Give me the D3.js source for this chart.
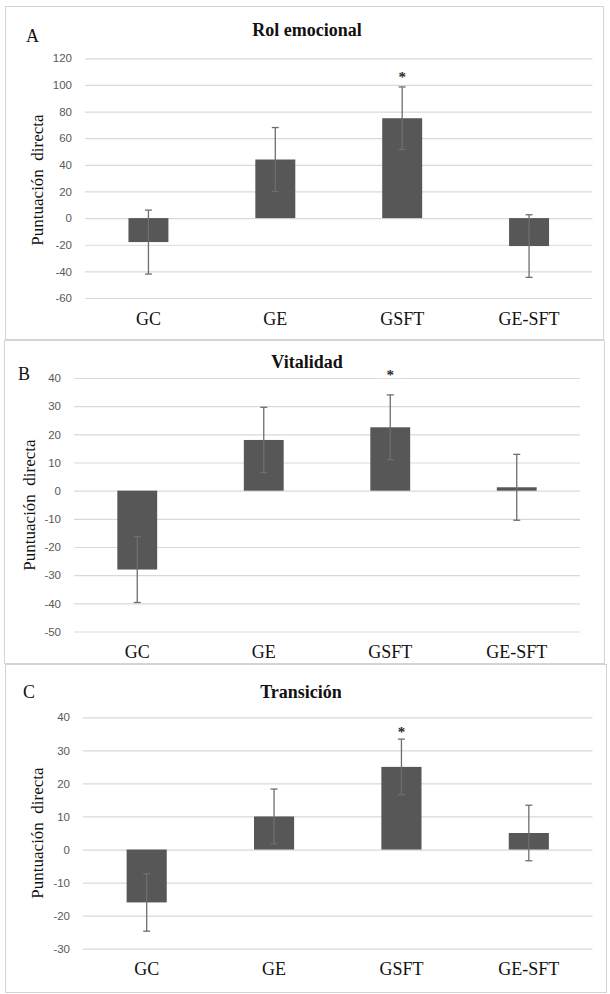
<!DOCTYPE html>
<html>
<head>
<meta charset="utf-8">
<script src="https://cdn.jsdelivr.net/npm/d3@7"></script>
<style>
  html, body { margin: 0; padding: 0; background: #fff; }
  svg { display: block; }
</style>
</head>
<body>
<svg id="chart" width="610" height="994"></svg>
<script>
// ---------- DATA ----------
const categories = ["GC", "GE", "GSFT", "GE-SFT"];

const rolMeans  = [-18, 44, 75, -21];
const rolErrors = [24, 24, 23.5, 23.5];
const rolTicks  = [-60, -40, -20, 0, 20, 40, 60, 80, 100, 120];

const vitMeans  = [-28, 18, 22.5, 1.2];
const vitErrors = [11.7, 11.6, 11.5, 11.7];
const vitTicks  = [-50, -40, -30, -20, -10, 0, 10, 20, 30, 40];

const traMeans  = [-16, 10, 25, 5];
const traErrors = [8.7, 8.3, 8.4, 8.4];
const traTicks  = [-30, -20, -10, 0, 10, 20, 30, 40];

const titles  = ["Rol emocional", "Vitalidad", "Transición"];
const letters = ["A", "B", "C"];
const yLabel  = "Puntuación  directa";
const sigMark = "*";
const sigIndex = [2, 2, 2];         // category marked significant
const sigLevel = [108, 42.1, 36.2]; // data-unit height of the asterisk

// ---------- LAYOUT ----------
const layout = [
  { box:[5,6,598,333],   x0:85, x1:592.5, yTop:58.3,  yBot:298,   titleX:307, titleY:36,  letterX:26, letterY:42,  catY:325, labX:37, labY:180, gap:null },
  { box:[4,340,600,323], x0:74, x1:580,   yTop:378,   yBot:631.5, titleX:307, titleY:368, letterX:18, letterY:380, catY:658, labX:29, labY:505, gap:[374,406] },
  { box:[5,664,601,328], x0:83, x1:592.5, yTop:717.3, yBot:948.7, titleX:301, titleY:698, letterX:23, letterY:698, catY:975, labX:37, labY:833, gap:[387,414.5] }
];

const panels = [
  { means: rolMeans, errors: rolErrors, ticks: rolTicks },
  { means: vitMeans, errors: vitErrors, ticks: vitTicks },
  { means: traMeans, errors: traErrors, ticks: traTicks }
];

const svg = d3.select("#chart");
const serif = "'Liberation Serif', 'Times New Roman', serif";
const sans = "'Liberation Sans', Arial, sans-serif";
const barColor = "#575757";
const errColor = "#6e6e6e";
const gridColor = "#d9d9d9";

panels.forEach((p, i) => {
  const L = layout[i];
  const g = svg.append("g");
  const ticks = p.ticks;

  // panel border
  g.append("rect")
    .attr("x", L.box[0] + 0.5).attr("y", L.box[1] + 0.5)
    .attr("width", L.box[2]).attr("height", L.box[3])
    .attr("fill", "#fff").attr("stroke", "#d4d4d4").attr("stroke-width", 1);

  const x = d3.scaleBand().domain(categories).range([L.x0, L.x1]).padding(0);
  const y = d3.scaleLinear().domain([d3.min(ticks), d3.max(ticks)]).range([L.yBot, L.yTop]);
  const barW = x.bandwidth() * 0.315;

  // gridlines via axis
  const gridAxis = d3.axisLeft(y).tickValues(ticks).tickSize(-(L.x1 - L.x0)).tickFormat("");
  const gg = g.append("g").attr("transform", `translate(${L.x0},0)`).call(gridAxis);
  gg.select(".domain").remove();
  gg.selectAll(".tick line").attr("stroke", gridColor).attr("stroke-width", 1.2);

  // tick labels via axis (ASCII hyphen for negatives, as in the original)
  const labAxis = d3.axisLeft(y).tickValues(ticks).tickSize(0).tickPadding(13).tickFormat(d => String(d));
  const la = g.append("g").attr("transform", `translate(${L.x0},0)`).call(labAxis);
  la.select(".domain").remove();
  la.selectAll(".tick text")
    .attr("font-family", sans).attr("font-size", 11.5).attr("fill", "#595959");

  // bars
  g.selectAll(".bar").data(p.means).enter().append("rect")
    .attr("x", (d, j) => x(categories[j]) + x.bandwidth() / 2 - barW / 2)
    .attr("y", d => Math.min(y(d), y(0)))
    .attr("width", barW)
    .attr("height", d => Math.abs(y(d) - y(0)))
    .attr("fill", barColor);

  // error bars
  const capW = 7;
  p.means.forEach((m, j) => {
    const cx = x(categories[j]) + x.bandwidth() / 2;
    const e = p.errors[j];
    const eg = g.append("g").attr("stroke", errColor).attr("stroke-width", 1.3);
    eg.append("line").attr("x1", cx).attr("x2", cx).attr("y1", y(m + e)).attr("y2", y(m - e));
    eg.append("line").attr("x1", cx - capW / 2).attr("x2", cx + capW / 2).attr("y1", y(m + e)).attr("y2", y(m + e));
    eg.append("line").attr("x1", cx - capW / 2).attr("x2", cx + capW / 2).attr("y1", y(m - e)).attr("y2", y(m - e));
  });

  // significance asterisk with white background
  const sx = x(categories[sigIndex[i]]) + x.bandwidth() / 2;
  const sy = y(sigLevel[i]);
  if (L.gap) {
    g.append("rect").attr("x", L.gap[0]).attr("y", sy - 8)
      .attr("width", L.gap[1] - L.gap[0]).attr("height", 14).attr("fill", "#fff");
  }
  g.append("text").attr("x", sx).attr("y", sy + 7.5)
    .attr("text-anchor", "middle")
    .attr("font-family", serif).attr("font-size", 15).attr("font-weight", "bold")
    .attr("fill", "#2a2a2a").text(sigMark);

  // category labels
  g.selectAll(".cat").data(categories).enter().append("text")
    .attr("x", d => x(d) + x.bandwidth() / 2)
    .attr("y", L.catY)
    .attr("text-anchor", "middle")
    .attr("font-family", serif).attr("font-size", 18).attr("fill", "#111")
    .text(d => d);

  // title
  g.append("text").attr("x", L.titleX).attr("y", L.titleY)
    .attr("text-anchor", "middle")
    .attr("font-family", serif).attr("font-size", 18).attr("font-weight", "bold")
    .attr("fill", "#111").text(titles[i]);

  // panel letter
  g.append("text").attr("x", L.letterX).attr("y", L.letterY)
    .attr("font-family", serif).attr("font-size", 18).attr("fill", "#111")
    .text(letters[i]);

  // y-axis label
  g.append("text")
    .attr("transform", `translate(${L.labX + 6},${L.labY}) rotate(-90)`)
    .attr("text-anchor", "middle")
    .style("white-space", "pre")
    .attr("font-family", serif).attr("font-size", 17).attr("fill", "#111")
    .text(yLabel);
});
</script>
</body>
</html>
